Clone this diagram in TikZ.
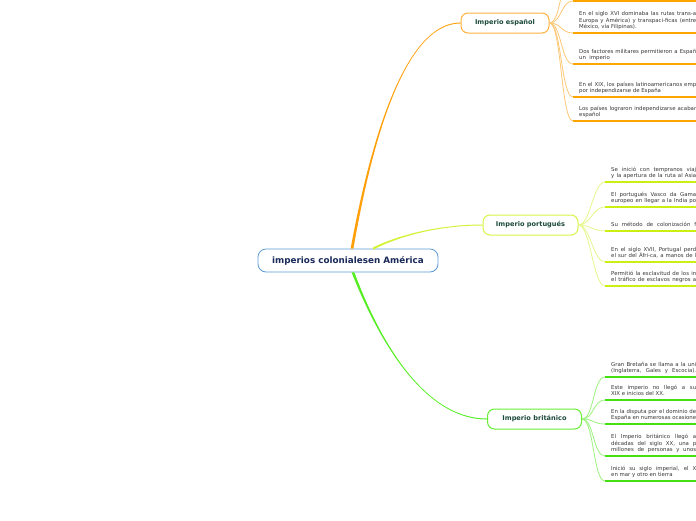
\documentclass[tikz,border=0pt]{standalone}
\usepackage{fontspec}
\setmainfont{DejaVu Sans}
\definecolor{rootblue}{HTML}{5B9BD5}
\definecolor{rootnavy}{HTML}{1B2A5A}
\definecolor{branchtext}{HTML}{1C4A3A}
\definecolor{leafgray}{HTML}{383838}
\definecolor{orMain}{HTML}{FF9F0A}
\definecolor{orBox}{HTML}{FFB23E}
\definecolor{orLine}{HTML}{FCC878}
\definecolor{orUl}{HTML}{FFA500}
\definecolor{ygMain}{HTML}{D4F23A}
\definecolor{ygBox}{HTML}{D8F546}
\definecolor{ygLine}{HTML}{E4F88C}
\definecolor{ygUl}{HTML}{CCEE11}
\definecolor{grMain}{HTML}{55EE22}
\definecolor{grBox}{HTML}{66EE33}
\definecolor{grLine}{HTML}{9CF27E}
\definecolor{grUl}{HTML}{44E011}
\newcommand\jl[2]{\makebox[#1pt][s]{#2}}
\tikzset{
  rootbox/.style={draw=rootblue, line width=0.8pt, rounded corners=8pt, fill=white,
    minimum width=180pt, minimum height=23pt, inner sep=0pt,
    font=\bfseries\fontsize{8.8}{10}\selectfont, text=rootnavy},
  branchbox/.style={line width=1pt, rounded corners=7pt, fill=white,
    minimum height=20pt, inner sep=0pt,
    font=\bfseries\fontsize{6.6}{7.5}\selectfont, text=branchtext},
  leaftext/.style={anchor=north west, inner sep=0pt, align=left,
    font=\fontsize{5.4}{6.5}\selectfont, text=leafgray},
  orcurve/.style={draw=orLine, line width=0.8pt},
  orunder/.style={draw=orUl, line width=1.5pt},
  ygcurve/.style={draw=ygLine, line width=0.8pt},
  ygunder/.style={draw=ygUl, line width=1.5pt},
  grcurve/.style={draw=grLine, line width=0.8pt},
  grunder/.style={draw=grUl, line width=1.5pt},
}
% #1 name, #2 branch node, #3 underline x, #4 underline y, #5 curve style, #6 underline style
\newcommand\leafline[6]{%
  \coordinate (#1u) at (#3,#4);
  \coordinate (#1e) at (700,#4);
  \draw[#5] (#2.east) .. controls +(12,0) and +(-12,0) .. (#1u);
  \draw[#6] (#1u) -- (#1e);}
% #1 name, #2 text x, #3 underline y, #4 number of lines, #5 text
\newcommand\leafnode[5]{%
  \node[leaftext] (#1) at (#2,{#3-8.6-6.5*(#4-1)}) {#5};}
\begin{document}
\begin{tikzpicture}[x=1pt,y=-1pt]
\useasboundingbox (0,0) rectangle (696,520);
\clip (0,0) rectangle (696,520);
\fill[white] (0,0) rectangle (696,520);

% nodes
\node[rootbox] (root) at (348,260.5) {imperios colonialesen América};
\node[branchbox, draw=orBox, minimum width=88pt] (esp) at (505,23) {Imperio español};
\node[branchbox, draw=ygBox, minimum width=95pt] (por) at (530.5,225) {Imperio portugués};
\node[branchbox, draw=grBox, minimum width=94pt] (bri) at (534.5,419) {Imperio británico};

% main tapered connectors
\coordinate (s1) at ([xshift=4pt]root.north);
\coordinate (s2) at ([xshift=25pt]root.north);
\coordinate (s3) at ([xshift=5pt]root.south);
\fill[orMain] ([xshift=-1.4pt]s1) .. controls (374.3,120) and (410,22.6) .. ([yshift=0.5pt]esp.west)
  -- ([yshift=-0.5pt]esp.west) .. controls (410,23.4) and (375.7,120) .. ([xshift=1.4pt]s1) -- cycle;
\fill[ygMain] ([yshift=1.2pt]s2) .. controls (400,234.4) and (440,224.6) .. ([yshift=0.5pt]por.west)
  -- ([yshift=-0.5pt]por.west) .. controls (440,225.4) and (400,235.6) .. ([yshift=-1.2pt]s2) -- cycle;
\fill[grMain] ([xshift=1.4pt]s3) .. controls (375.7,330) and (420,418.6) .. ([yshift=0.5pt]bri.west)
  -- ([yshift=-0.5pt]bri.west) .. controls (420,419.4) and (374.3,330) .. ([xshift=-1.4pt]s3) -- cycle;

% Imperio español leaves
\leafline{s0}{esp}{573}{-30}{orcurve}{orunder}
\leafline{sa}{esp}{573}{1}{orcurve}{orunder}
\leafline{sb}{esp}{573}{33}{orcurve}{orunder}
\leafline{sc}{esp}{573}{64}{orcurve}{orunder}
\leafline{sd}{esp}{573}{97}{orcurve}{orunder}
\leafline{se}{esp}{573}{121}{orcurve}{orunder}
\leafnode{tb}{579}{33}{3}{\jl{117}{En el siglo XVI dominaba las rutas trans-a}\\\jl{117}{Europa y América) y transpaci-ficas (entre}\\México, vía Filipinas).}
\leafnode{tc}{579}{64}{2}{\jl{117}{Dos factores militares permitieron a Españ}\\un\ \ imperio}
\leafnode{td}{579}{97}{2}{\jl{117}{En el XIX, los países latinoamericanos emp}\\por independizarse de España}
\leafnode{te}{579}{121}{2}{\jl{117}{Los países lograron independizarse acabar}\\español}

% Imperio portugués leaves
\leafline{pa}{por}{605}{182}{ygcurve}{ygunder}
\leafline{pb}{por}{605}{207}{ygcurve}{ygunder}
\leafline{pc}{por}{605}{231}{ygcurve}{ygunder}
\leafline{pd}{por}{605}{262}{ygcurve}{ygunder}
\leafline{pe}{por}{605}{286}{ygcurve}{ygunder}
\leafnode{qa}{611}{182}{2}{\jl{85}{Se inició con tempranos viaj}\\\jl{85}{y la apertura de la ruta al Asia}}
\leafnode{qb}{611}{207}{2}{\jl{85}{El portugués Vasco da Gama}\\\jl{85}{europeo en llegar a la India po}}
\leafnode{qc}{611}{231}{1}{\jl{85}{Su método de colonización f}}
\leafnode{qd}{611}{262}{2}{\jl{85}{En el siglo XVII, Portugal perd}\\\jl{85}{el sur del Áfri-ca, a manos de l}}
\leafnode{qe}{611}{286}{2}{\jl{85}{Permitió la esclavitud de los in}\\\jl{85}{el tráfico de esclavos negros a}}

% Imperio británico leaves
\leafline{ba}{bri}{605}{377}{grcurve}{grunder}
\leafline{bb}{bri}{605}{400}{grcurve}{grunder}
\leafline{bc}{bri}{605}{424}{grcurve}{grunder}
\leafline{bd}{bri}{605}{456}{grcurve}{grunder}
\leafline{be}{bri}{605}{481}{grcurve}{grunder}
\leafnode{ca}{611}{377}{2}{\jl{85}{Gran Bretaña se llama a la uni}\\\jl{85}{(Inglaterra, Gales y Escocia).}}
\leafnode{cb}{611}{400}{2}{\jl{85}{Este imperio no llegó a su}\\XIX e inicios del XX.}
\leafnode{cc}{611}{424}{2}{\jl{85}{En la disputa por el dominio de}\\\jl{85}{España en numerosas ocasione}}
\leafnode{cd}{611}{456}{3}{\jl{85}{El Imperio británico llegó a}\\\jl{85}{décadas del siglo XX, una p}\\\jl{85}{millones de personas y unos}}
\leafnode{ce}{611}{481}{2}{\jl{85}{Inició su siglo imperial, el X}\\en mar y otro en tierra}
\end{tikzpicture}
\end{document}
